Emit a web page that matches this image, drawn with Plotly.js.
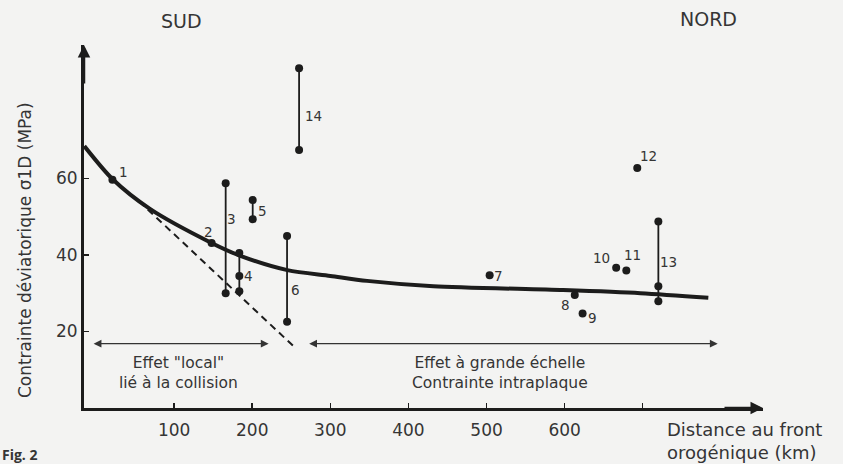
<!DOCTYPE html>
<html><head><meta charset="utf-8">
<script src="https://cdn.plot.ly/plotly-3.0.1.min.js"></script>
<style>html,body{margin:0;padding:0;background:#f3f3f2;}</style>
</head><body><div id="chart" style="width:843px;height:464px;"></div>
<script>
// ---- data ----
const curveX = [-15, 21, 69, 146, 184, 245, 300, 347, 432, 598, 697, 784];
const curveY = [68.4, 59.8, 52, 43.3, 39.8, 36, 34.5, 33.2, 31.8, 30.8, 30, 28.8];
const dashX = [55, 252];
const dashY = [54, 16.3];
const ptX = [21, 148, 504, 613, 623, 666, 679, 693];
const ptY = [59.6, 43.1, 34.7, 29.5, 24.7, 36.6, 35.9, 62.7];
const ptLabel = ['1', '2', '7', '8', '9', '10', '11', '12'];
const rngX = [166, 183.5, 200.6, 244.6, 720, 260];
const rngLo = [30.0, 30.5, 49.3, 22.5, 27.9, 67.4];
const rngHi = [58.7, 40.5, 54.3, 44.9, 48.7, 88.7];
const rngMid = [null, 34.5, null, null, 31.8, null];
const rngLabel = ['3', '4', '5', '6', '13', '14'];
const rngLabelY = [49.3, 34.5, 51.4, 30.8, 38.1, 76.2];
const localArrowX = [-5, 221];
const scaleArrowX = [271, 796];
const arrowY = 16.8;
const xTicks = [100, 200, 300, 400, 500, 600, 700];
const xTickText = ['100', '200', '300', '400', '500', '600', ''];
const yTicks = [20, 40, 60];
const yTickText = ['20', '40', '60'];
const zoneText = ['Effet "local"<br>lié à la collision', 'Effet à grande échelle<br>Contrainte intraplaque'];
const zoneTextX = [105, 517];
const zoneTextY = 9.1;

// ---- styles ----
const ink = '#1c1c1c';
const txt = '#353535';
const font = 'DejaVu Sans, sans-serif';
const ptOff = [[11, -8], [-3, -11], [9, 1], [-9, 10], [10, 5], [-15, -10], [6, -16], [11, -12]];
const rngOff = [-1, 3, 3, 2, 0, 4];

const traces = [];
traces.push({x: curveX, y: curveY, mode: 'lines', line: {color: ink, width: 4, shape: 'spline', smoothing: 0.8}, hoverinfo: 'skip'});
traces.push({x: dashX, y: dashY, mode: 'lines', line: {color: ink, width: 2, dash: '7px,5px'}, hoverinfo: 'skip'});
for (let i = 0; i < rngX.length; i++) {
  const ys = [rngLo[i], rngHi[i]];
  if (rngMid[i] !== null) ys.push(rngMid[i]);
  traces.push({x: [rngX[i], rngX[i]], y: [rngLo[i], rngHi[i]], mode: 'lines', line: {color: ink, width: 1.8}, hoverinfo: 'skip'});
  traces.push({x: ys.map(() => rngX[i]), y: ys, mode: 'markers', marker: {color: ink, size: 8}, hoverinfo: 'skip'});
}
traces.push({x: ptX, y: ptY, mode: 'markers', marker: {color: ink, size: 8}, hoverinfo: 'skip'});

const ann = [];
ptX.forEach((x, i) => ann.push({x: x, y: ptY[i], xref: 'x', yref: 'y', text: ptLabel[i], showarrow: false,
  xshift: ptOff[i][0], yshift: -ptOff[i][1], font: {family: font, size: 13.5, color: txt}}));
rngX.forEach((x, i) => ann.push({x: x, y: rngLabelY[i], xref: 'x', yref: 'y', text: rngLabel[i], showarrow: false,
  xshift: rngOff[i], xanchor: 'left', font: {family: font, size: 13.5, color: txt}}));
[localArrowX, scaleArrowX].forEach(a => ann.push({x: a[1], y: arrowY, ax: a[0], ay: arrowY, xref: 'x', yref: 'y', axref: 'x', ayref: 'y',
  text: '', showarrow: true, arrowhead: 2, arrowside: 'end+start', arrowsize: 1.2, arrowwidth: 1.3, arrowcolor: '#333'}));
zoneText.forEach((t, i) => ann.push({x: zoneTextX[i], y: zoneTextY, xref: 'x', yref: 'y', text: t, showarrow: false,
  xanchor: 'center', yanchor: 'middle', font: {family: font, size: 15.5, color: txt}, align: 'center'}));
ann.push({x: 0, y: 1, xref: 'paper', yref: 'paper', ax: 0, ay: 40, text: '', showarrow: true, arrowhead: 2, arrowsize: 1, arrowwidth: 2.5, arrowcolor: ink});
ann.push({x: 1, y: 0, xref: 'paper', yref: 'paper', ax: -40, ay: 0, text: '', showarrow: true, arrowhead: 2, arrowsize: 1, arrowwidth: 2.5, arrowcolor: ink});
ann.push({x: -0.0869, y: 0.435, xref: 'paper', yref: 'paper', xanchor: 'center', yanchor: 'middle', text: 'Contrainte déviatorique σ1D (MPa)', textangle: -90, showarrow: false,
  font: {family: font, size: 17, color: txt}});
ann.push({x: 0.855, y: -0.091, xref: 'paper', yref: 'paper', text: 'Distance au front<br>orogénique (km)', showarrow: false,
  xanchor: 'left', yanchor: 'middle', align: 'left', font: {family: font, size: 18, color: txt}});
ann.push({x: 0.143, y: 1.066, xref: 'paper', yref: 'paper', xanchor: 'center', yanchor: 'middle', text: 'SUD', showarrow: false, font: {family: font, size: 19, color: txt}});
ann.push({x: 0.919, y: 1.071, xref: 'paper', yref: 'paper', xanchor: 'center', yanchor: 'middle', text: 'NORD', showarrow: false, font: {family: font, size: 19, color: txt}});
ann.push({x: -0.1237, y: -0.129, xref: 'paper', yref: 'paper', text: '<b>Fig. 2</b>', showarrow: false, xanchor: 'left', yanchor: 'middle',
  font: {family: 'Open Sans, sans-serif', size: 14, color: txt}});

const layout = {
  width: 843, height: 464,
  margin: {l: 84, r: 80, t: 45, b: 56},
  paper_bgcolor: '#f3f3f2', plot_bgcolor: '#f3f3f2',
  showlegend: false,
  xaxis: {range: [-15.4, 854], tickvals: xTicks, ticktext: xTickText, showline: true, linewidth: 3, linecolor: ink,
    ticks: 'inside', ticklen: 5, tickwidth: 1.5, tickcolor: ink, showgrid: false, zeroline: false, ticklabelstandoff: 5,
    tickfont: {family: font, size: 17, color: txt}},
  yaxis: {range: [0, 94.8], tickvals: yTicks, ticktext: yTickText, showline: true, linewidth: 3, linecolor: ink,
    ticks: 'inside', ticklen: 5, tickwidth: 1.5, tickcolor: ink, showgrid: false, zeroline: false,
    tickfont: {family: font, size: 17, color: txt}},
  annotations: ann
};
Plotly.newPlot('chart', traces, layout, {staticPlot: true});
</script></body></html>
